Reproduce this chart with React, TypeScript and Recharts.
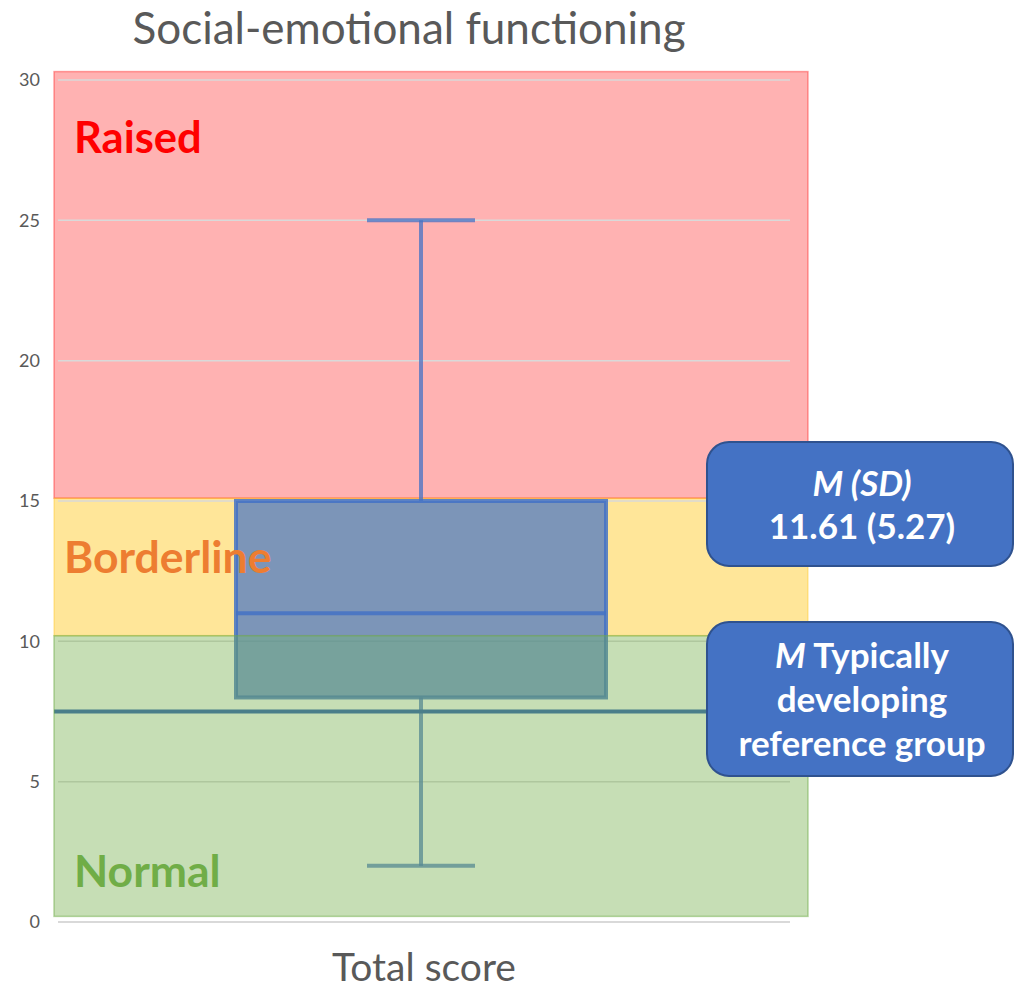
import React from 'react';
import {
  ComposedChart,
  Bar,
  XAxis,
  YAxis,
  CartesianGrid,
  ReferenceArea,
  ReferenceLine,
} from 'recharts';

// ---------- data ----------
const categories = ['Total score'];
const whiskerMin = [2];
const quartile1 = [8];
const medians = [11];
const quartile3 = [15];
const whiskerMax = [25];
const referenceGroupMean = 7.5;
const sampleMean = 11.61;
const sampleSD = 5.27;
const yTicks = [0, 5, 10, 15, 20, 25, 30];
const bandNames = ['Raised', 'Borderline', 'Normal'];
const bandLow = [15.1, 10.2, 0.2];
const bandHigh = [30.3, 15.1, 10.2];
const bandColors = ['#FF0000', '#FFC000', '#70AD47'];
const bandTextColors = ['#FF0000', '#ED7D31', '#70AD47'];

const data = categories.map((name, i) => ({
  name,
  base: whiskerMin[i],
  lower: quartile1[i] - whiskerMin[i],
  box: quartile3[i] - quartile1[i],
  upper: whiskerMax[i] - quartile3[i],
  q1: quartile1[i],
  q3: quartile3[i],
  median: medians[i],
}));

const FONT = 'Lato, "Open Sans", sans-serif';
const BLUE = '#4472C4';
const CAP_HALF = 54;
const SHIFT = -3;
const W = 1014;
const H = 988;
const MARGIN = { top: 80, right: 224, bottom: 0, left: 0 };

const LowerWhisker = (p: any) => {
  const cx = p.x + p.width / 2 + SHIFT;
  return (
    <g>
      <line x1={cx} x2={cx} y1={p.y} y2={p.y + p.height} stroke={BLUE} strokeOpacity={0.75} strokeWidth={4} />
      <line x1={cx - CAP_HALF} x2={cx + CAP_HALF} y1={p.y + p.height} y2={p.y + p.height} stroke={BLUE} strokeOpacity={0.75} strokeWidth={4} />
    </g>
  );
};

const UpperWhisker = (p: any) => {
  const cx = p.x + p.width / 2 + SHIFT;
  return (
    <g>
      <line x1={cx} x2={cx} y1={p.y} y2={p.y + p.height} stroke={BLUE} strokeOpacity={0.75} strokeWidth={4} />
      <line x1={cx - CAP_HALF} x2={cx + CAP_HALF} y1={p.y} y2={p.y} stroke={BLUE} strokeOpacity={0.75} strokeWidth={4} />
    </g>
  );
};

const BoxShape = (p: any) => {
  const pl = p.payload || {};
  const frac = (pl.q3 - pl.median) / (pl.q3 - pl.q1);
  const my = p.y + p.height * frac;
  const x = p.x + SHIFT;
  return (
    <g>
      <rect x={x} y={p.y} width={p.width} height={p.height} fill={BLUE} fillOpacity={0.7} stroke={BLUE} strokeOpacity={0.85} strokeWidth={4} />
      <line x1={x} x2={x + p.width} y1={my} y2={my} stroke={BLUE} strokeOpacity={0.85} strokeWidth={4} />
    </g>
  );
};

const Empty = () => <g />;

// band rectangle drawn slightly wider than the plot area (as in the reference)
const makeBand = (color: string, opacity: number, strokeOpacity: number) => (p: any) => (
  <rect
    x={p.x - 4}
    y={p.y}
    width={p.width + 22}
    height={p.height}
    fill={color}
    fillOpacity={opacity}
    stroke={color}
    strokeOpacity={strokeOpacity}
    strokeWidth={1.5}
  />
);

const MeanLine = (p: any) => (
  <line x1={p.x1 - 4} x2={p.x2 + 200} y1={p.y1} y2={p.y2} stroke="#3160B8" strokeWidth={4} />
);

const YTick = (p: any) => (
  <text x={p.x - 18} y={p.y} dy="0.36em" textAnchor="end" fill="#595959" fontSize={18} fontFamily={FONT}>
    {p.payload.value}
  </text>
);

const XTick = (p: any) => (
  <text x={p.x} y={p.y + 59} textAnchor="middle" fill="#595959" fontSize={39} fontFamily={FONT}>
    {p.payload.value}
  </text>
);

// one layer of the chart; all layers share the same axes and series so the scales line up
const Layer = ({ visibleAxes, children }: { visibleAxes: boolean; children: React.ReactNode }) => (
  <div style={{ position: 'absolute', left: 0, top: 0 }}>
    <ComposedChart width={W} height={H} data={data} margin={MARGIN} barCategoryGap={0}>
      <XAxis
        dataKey="name"
        type="category"
        tickLine={false}
        tickSize={0}
        tickMargin={0}
        axisLine={visibleAxes ? { stroke: '#D9D9D9', strokeWidth: 2 } : false}
        height={66}
        tick={visibleAxes ? <XTick /> : false}
      />
      <YAxis
        domain={[0, 30]}
        ticks={yTicks}
        width={58}
        tickLine={false}
        tickSize={0}
        tickMargin={0}
        axisLine={false}
        tick={visibleAxes ? <YTick /> : false}
      />
      {children}
    </ComposedChart>
  </div>
);

export default function App() {
  const bandLabelPos = [
    { x: 74, y: 153 },
    { x: 64, y: 573 },
    { x: 74, y: 887 },
  ];
  const bandLabelSize = [43.5, 44.5, 44.5];
  return (
    <div style={{ position: 'absolute', left: 0, top: 0, width: W, height: H, background: '#fff', overflow: 'hidden' }}>
      {/* layer 1: raised and borderline bands */}
      <Layer visibleAxes={false}>
        <Bar dataKey="box" barSize={370} shape={<Empty />} isAnimationActive={false} />
        <ReferenceArea y1={bandLow[0]} y2={bandHigh[0]} ifOverflow="visible" shape={makeBand(bandColors[0], 0.3, 0.35)} />
        <ReferenceArea y1={bandLow[1]} y2={bandHigh[1]} ifOverflow="visible" shape={makeBand(bandColors[1], 0.4, 0.3)} />
      </Layer>
      {/* layer 2: grid, axes, box plot and reference-group mean */}
      <Layer visibleAxes={true}>
        <CartesianGrid vertical={false} stroke="#D9D9D9" strokeWidth={1.5} />
        <Bar dataKey="base" stackId="box" barSize={370} fill="transparent" isAnimationActive={false} />
        <Bar dataKey="lower" stackId="box" barSize={370} shape={<LowerWhisker />} isAnimationActive={false} />
        <Bar dataKey="box" stackId="box" barSize={370} shape={<BoxShape />} isAnimationActive={false} />
        <Bar dataKey="upper" stackId="box" barSize={370} shape={<UpperWhisker />} isAnimationActive={false} />
        <ReferenceLine y={referenceGroupMean} ifOverflow="visible" shape={MeanLine} />
      </Layer>
      {/* layer 3: translucent normal band on top */}
      <Layer visibleAxes={false}>
        <Bar dataKey="box" barSize={370} shape={<Empty />} isAnimationActive={false} />
        <ReferenceArea y1={bandLow[2]} y2={bandHigh[2]} ifOverflow="visible" shape={makeBand(bandColors[2], 0.4, 0.5)} />
      </Layer>
      <svg width={W} height={H} style={{ position: 'absolute', left: 0, top: 0, pointerEvents: 'none' }}>
        <text x={409} y={44} textAnchor="middle" fill="#595959" fontSize={44} fontFamily={FONT}>
          Social-emotional functioning
        </text>
        {bandNames.map((n, i) => (
          <text
            key={n}
            x={bandLabelPos[i].x}
            y={bandLabelPos[i].y}
            fill={bandTextColors[i]}
            fontSize={bandLabelSize[i]}
            fontWeight="bold"
            fontFamily={FONT}
          >
            {n}
          </text>
        ))}
        <rect x={707} y={442} width={306} height={124} rx={22} ry={22} fill={BLUE} stroke="#2F528F" strokeWidth={2} />
        <text x={862} y={496} textAnchor="middle" fill="#fff" fontSize={35} fontWeight="bold" fontStyle="italic" fontFamily={FONT}>
          M (SD)
        </text>
        <text x={862} y={539} textAnchor="middle" fill="#fff" fontSize={35} fontWeight="bold" fontFamily={FONT}>
          {`${sampleMean.toFixed(2)} (${sampleSD.toFixed(2)})`}
        </text>
        <rect x={707} y={622} width={306} height={154} rx={22} ry={22} fill={BLUE} stroke="#2F528F" strokeWidth={2} />
        <text x={862} y={668} textAnchor="middle" fill="#fff" fontSize={35} fontWeight="bold" fontFamily={FONT}>
          <tspan fontStyle="italic">M</tspan> Typically
        </text>
        <text x={862} y={712} textAnchor="middle" fill="#fff" fontSize={35} fontWeight="bold" fontFamily={FONT}>
          developing
        </text>
        <text x={862} y={756} textAnchor="middle" fill="#fff" fontSize={35} fontWeight="bold" fontFamily={FONT}>
          reference group
        </text>
      </svg>
    </div>
  );
}
